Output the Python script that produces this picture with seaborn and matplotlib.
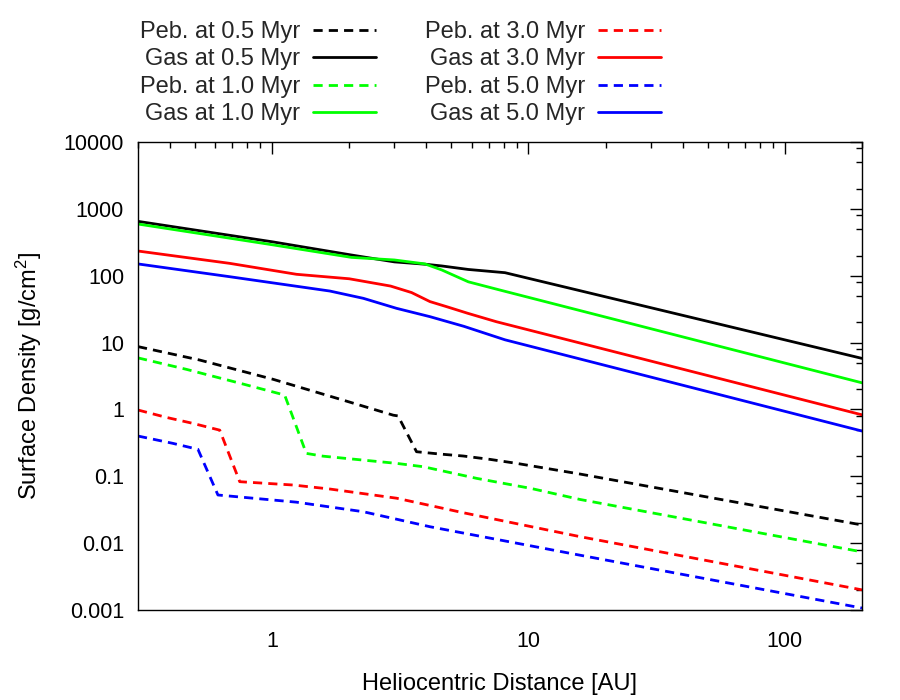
import numpy as np
import pandas as pd
import matplotlib
matplotlib.use("Agg")
import matplotlib.pyplot as plt
from matplotlib.ticker import LogLocator, NullFormatter, FixedLocator
from matplotlib.lines import Line2D
import seaborn as sns

# ---------------- data ----------------
gas05_x = [0.3, 1.0, 2.04, 2.5, 3.0, 4.0, 4.59, 5.83, 8.1, 200]
gas05_y = [650, 322, 204, 180, 161, 148, 140, 124, 111, 5.8]

gas10_x = [0.3, 0.96, 2.04, 3.0, 3.95, 4.59, 5.83, 7.75, 200]
gas10_y = [593, 298, 188, 172, 150, 122, 81, 61, 2.5]

gas30_x = [0.3, 0.684, 1.245, 2.0, 2.9, 3.5, 4.13, 4.8, 5.8, 7.5, 200]
gas30_y = [234, 153, 105, 90, 70, 56, 41, 34.4, 27.4, 20.5, 0.83]

gas50_x = [0.3, 0.684, 1.68, 2.27, 3.06, 4.13, 5.6, 8.1, 200]
gas50_y = [150, 96.6, 59, 45.9, 32.5, 24.4, 17.5, 11, 0.475]

peb05_x = [0.3, 0.522, 1.01, 1.89, 2.97, 3.1, 3.66, 4.52, 5.57, 7.08, 9.0, 15.9, 200]
peb05_y = [8.7, 5.48, 2.82, 1.38, 0.82, 0.80, 0.233, 0.215, 0.201, 0.179, 0.156, 0.108, 0.0187]

peb10_x = [0.3, 0.463, 0.77, 1.12, 1.36, 1.58, 3.06, 3.89, 6.29, 10.2, 15.9, 200]
peb10_y = [5.9, 3.98, 2.4, 1.64, 0.22, 0.20, 0.156, 0.139, 0.093, 0.066, 0.045, 0.0074]

peb30_x = [0.3, 0.387, 0.49, 0.625, 0.748, 1.21, 1.68, 3.06, 5.57, 15.9, 200]
peb30_y = [0.98, 0.76, 0.62, 0.49, 0.083, 0.074, 0.0645, 0.047, 0.0285, 0.0125, 0.002]

peb50_x = [0.3, 0.41, 0.514, 0.615, 1.245, 2.27, 4.13, 15.9, 200]
peb50_y = [0.40, 0.311, 0.253, 0.0525, 0.041, 0.0295, 0.0176, 0.0066, 0.00107]

labels = ["Peb. at 0.5 Myr", "Gas at 0.5 Myr", "Peb. at 1.0 Myr", "Gas at 1.0 Myr",
          "Peb. at 3.0 Myr", "Gas at 3.0 Myr", "Peb. at 5.0 Myr", "Gas at 5.0 Myr"]
series_x = [peb05_x, gas05_x, peb10_x, gas10_x, peb30_x, gas30_x, peb50_x, gas50_x]
series_y = [peb05_y, gas05_y, peb10_y, gas10_y, peb30_y, gas30_y, peb50_y, gas50_y]
colors = ["#000000", "#000000", "#00ff00", "#00ff00",
          "#ff0000", "#ff0000", "#0000ff", "#0000ff"]
is_peb = [True, False, True, False, True, False, True, False]

y_major = [0.001, 0.01, 0.1, 1, 10, 100, 1000, 10000]
y_major_labels = ["0.001", "0.01", "0.1", "1", "10", "100", "1000", "10000"]
x_major = [1, 10, 100]
x_major_labels = ["1", "10", "100"]

# ---------------- style ----------------
sns.set_theme(style="white")
plt.rcParams["font.family"] = ["Liberation Sans", "DejaVu Sans"]
plt.rcParams["mathtext.fontset"] = "custom"
plt.rcParams["mathtext.rm"] = "Liberation Sans"
plt.rcParams["mathtext.it"] = "Liberation Sans"

TICK_FS = 15.5
LAB_FS = 17
LEG_FS = 17

fig = plt.figure(figsize=(9, 7), dpi=100)
ax = fig.add_axes([138 / 900, 1 - 610 / 700, (862 - 138) / 900, (610 - 142) / 700])

LW = 2.0
DASH = (0, (3.3, 2.2))
handles = []
for lab, xs, ys, c, peb in zip(labels, series_x, series_y, colors, is_peb):
    df = pd.DataFrame({"x": xs, "y": ys})
    ls = DASH if peb else "-"
    sns.lineplot(data=df, x="x", y="y", ax=ax, color=c, linewidth=LW,
                 linestyle=ls, estimator=None, sort=False)
    handles.append(Line2D([], [], color=c, linewidth=LW, linestyle=ls))

ax.set_xscale("log")
ax.set_yscale("log")
ax.set_xlim(0.3, 200)
ax.set_ylim(0.001, 10000)

ax.yaxis.set_major_locator(FixedLocator(y_major))
ax.set_yticklabels(y_major_labels)
ax.yaxis.set_minor_locator(LogLocator(base=10, subs=[2, 5, 8], numticks=20))
ax.yaxis.set_minor_formatter(NullFormatter())
ax.xaxis.set_major_locator(FixedLocator(x_major))
ax.set_xticklabels(x_major_labels)
ax.xaxis.set_minor_locator(LogLocator(base=10, subs=np.arange(2, 10), numticks=20))
ax.xaxis.set_minor_formatter(NullFormatter())

for s in ax.spines.values():
    s.set_visible(True)
    s.set_color("black")
    s.set_linewidth(1.0)

ax.tick_params(which="both", direction="in", top=True, right=True, colors="black",
               labelsize=TICK_FS, width=1.0)
ax.tick_params(which="major", length=8.5)
ax.tick_params(which="minor", length=4.2)
ax.tick_params(axis="x", which="major", pad=15)
ax.tick_params(axis="y", which="major", pad=10)
ax.grid(False)

ax.set_xlabel("Heliocentric Distance [AU]", fontsize=LAB_FS, color="black")
ax.set_ylabel("Surface Density [g/cm$^2$]", fontsize=LAB_FS, color="black")
ax.xaxis.set_label_coords(0.5, -(673 - 610) / 468, transform=ax.transAxes)
ax.yaxis.set_label_coords(-(138 - 44) / 724, 0.5, transform=ax.transAxes)

leg = fig.legend(handles, labels, ncol=2, markerfirst=False, frameon=False,
                 loc="upper left", bbox_to_anchor=(140 / 900, 1 - 21 / 700),
                 bbox_transform=fig.transFigure, fontsize=LEG_FS,
                 handlelength=2.67, handletextpad=0.55, columnspacing=2.05,
                 labelspacing=0.23, borderpad=0, borderaxespad=0)

fig.savefig("out.png", dpi=100)
